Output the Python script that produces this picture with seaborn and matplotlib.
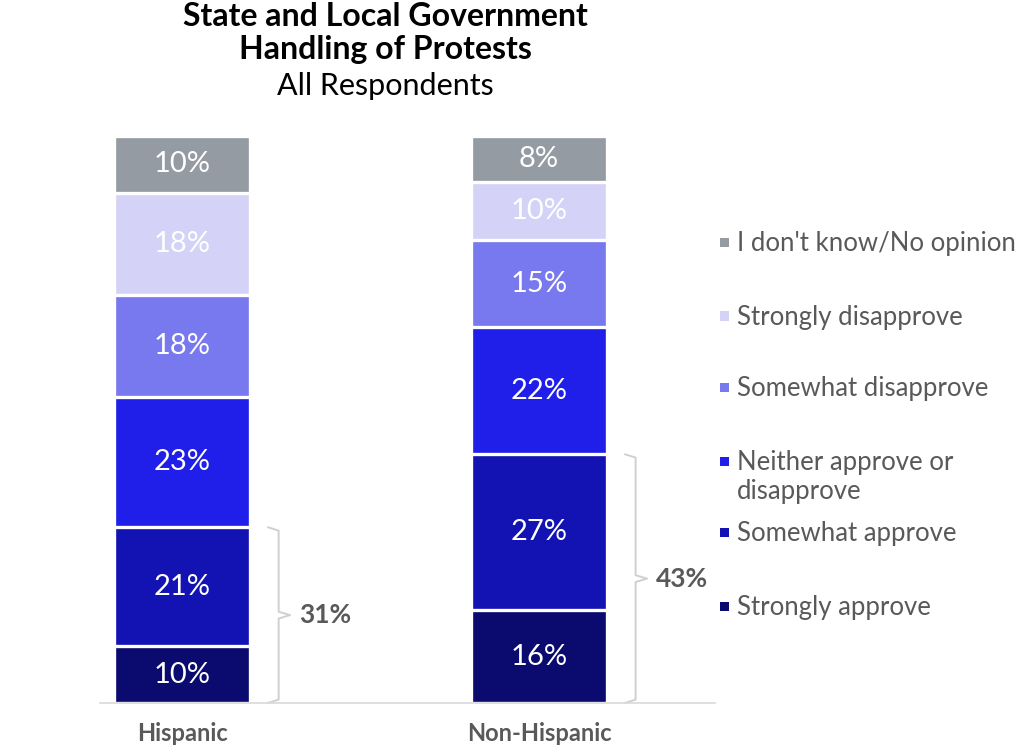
import numpy as np
import pandas as pd
import matplotlib.pyplot as plt
import seaborn as sns
from matplotlib.lines import Line2D
from matplotlib.patches import Rectangle

# Data
groups = ["Hispanic", "Non-Hispanic"]
responses = ["Strongly approve", "Somewhat approve", "Neither approve or\ndisapprove",
             "Somewhat disapprove", "Strongly disapprove", "I don't know/No opinion"]
strongly_approve = [10, 16]
somewhat_approve = [21, 27]
neither = [23, 22]
somewhat_disapprove = [18, 15]
strongly_disapprove = [18, 10]
dont_know = [10, 8]
approve_totals = [31, 43]

colors = ["#0b0b6f", "#1313b4", "#1f1fe9", "#7878ef", "#d4d3f7", "#959ba3"]

series = [strongly_approve, somewhat_approve, neither,
          somewhat_disapprove, strongly_disapprove, dont_know]

df = pd.DataFrame({"group": np.repeat(groups, len(responses)),
                   "response": responses * len(groups),
                   "value": [s[i] for i in range(len(groups)) for s in series]})
# 100% stacked, like the original
df["share"] = df["value"] / df.groupby("group")["value"].transform("sum") * 100
df["top"] = df.groupby("group")["share"].cumsum()
df["bottom"] = df["top"] - df["share"]

sns.set_style("white")
plt.rcParams["font.family"] = ["Lato", "DejaVu Sans"]

fig = plt.figure(figsize=(10.16, 7.48), dpi=100)
ax = fig.add_axes([100 / 1016, 1 - 703 / 748, 615 / 1016, 567 / 748])

width = 0.381
# draw cumulative bars from the top down so they stack
for resp, col in reversed(list(zip(responses, colors))):
    sub = df[df["response"] == resp]
    sns.barplot(data=sub, x="group", y="top", order=groups, color=col,
                width=width, edgecolor="white", linewidth=2.4, ax=ax,
                saturation=1, errorbar=None)

for _, r in df.iterrows():
    xi = groups.index(r["group"])
    ax.text(xi, (r["bottom"] + r["top"]) / 2, f"{r['value']}%", color="white",
            fontsize=21, ha="center", va="center")

ax.set_xlim(-0.23, 1.493)
ax.set_ylim(0, 100)
ax.set_xlabel("")
ax.set_ylabel("")
ax.set_yticks([])
ax.set_xticks([])
for s in ["top", "left", "right"]:
    ax.spines[s].set_visible(False)
ax.spines["bottom"].set_color("#d9d9d9")
ax.spines["bottom"].set_linewidth(1.2)

for xi, g in enumerate(groups):
    ax.text(xi, -3.3, g, ha="center", va="top", fontsize=17, fontweight="bold",
            color="#595959")

# brackets for approve totals
for xi, tot in enumerate(approve_totals):
    top = df[(df["group"] == groups[xi])]["share"].iloc[:2].sum()
    x0 = xi + width / 2 + 0.05
    x1 = x0 + 0.03
    x2 = x1 + 0.032
    mid = top / 2
    ax.add_line(Line2D([x0, x1, x1, x2, x1, x1, x0],
                       [top, top - 0.6, mid + 0.6, mid, mid - 0.6, 0.6, 0],
                       color="#d0d0d0", lw=1.4, clip_on=False))
    ax.text(x2 + 0.025, mid, f"{tot}%", ha="left", va="center", fontsize=19,
            fontweight="bold", color="#595959")

# title
fig.text(385 / 1016, 1 - 16 / 748, "State and Local Government", ha="center", va="center",
         fontsize=23, fontweight="bold", color="black")
fig.text(385 / 1016, 1 - 49 / 748, "Handling of Protests", ha="center", va="center",
         fontsize=23, fontweight="bold", color="black")
fig.text(385 / 1016, 1 - 86 / 748, "All Respondents", ha="center", va="center",
         fontsize=22, color="black")

# legend, top to bottom
leg_y = [242, 316, 387, 461, 532, 606]
for resp, col, y in zip(reversed(responses), reversed(colors), leg_y):
    fig.add_artist(Rectangle(((724 - 4.5) / 1016, 1 - (y + 4.5) / 748), 9 / 1016, 9 / 748,
                             facecolor=col, edgecolor="none", transform=fig.transFigure))
    fig.text(737 / 1016, 1 - (y - 11) / 748, resp, ha="left", va="top",
             fontsize=18.5, color="#595959", linespacing=1.2)

fig.savefig("out.png", dpi=100)
